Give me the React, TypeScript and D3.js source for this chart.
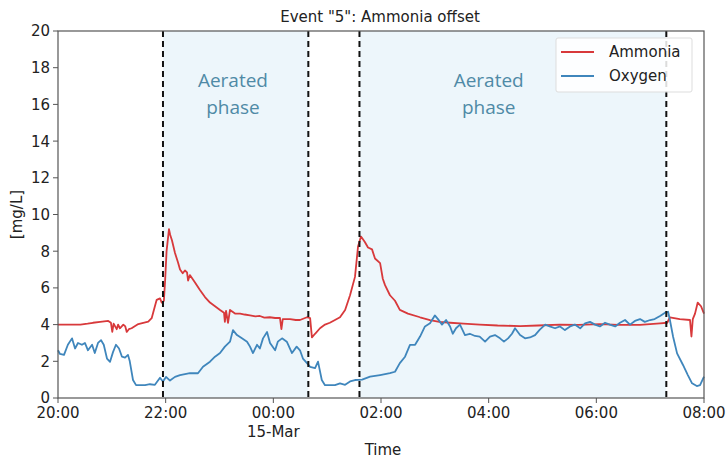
import React, { useEffect } from "react";
import * as d3 from "d3";

// minutes after 20:00 (14-Mar), value in mg/L
const ammonia: [number, number][] = [
  [0, 4.0], [13, 4.0], [25, 4.0], [33, 4.05], [39, 4.1], [47, 4.15], [56, 4.2], [59, 4.1],
  [60.5, 3.6], [62, 4.05], [65.4, 3.75], [67, 4.0], [69, 3.8], [72.8, 4.0], [75, 3.9],
  [76.6, 3.6], [79, 3.75], [82, 3.8], [89.5, 4.03], [95, 4.1], [100.6, 4.16], [104.4, 4.35],
  [108, 5.0], [110, 5.35], [113.7, 5.43], [115.6, 5.2], [118, 5.3], [119.5, 6.5], [121, 8.0],
  [123.7, 9.2], [125, 8.9], [127, 8.6], [130.4, 7.9], [133.7, 7.4], [136, 7.0], [139, 6.8],
  [141.5, 6.95], [143.8, 6.85], [145, 6.4], [147, 6.7], [152.7, 6.3], [158, 5.9], [163.8, 5.5],
  [169.4, 5.2], [175, 5.0], [180.6, 4.8], [185, 4.65], [186, 4.15], [187.3, 4.75], [189.5, 4.1],
  [191.7, 4.8], [197.3, 4.6], [203, 4.6], [208, 4.55], [214, 4.5], [220, 4.45], [225, 4.47],
  [230, 4.38], [236, 4.4], [242, 4.36], [247.4, 4.36], [249, 3.75], [250.5, 4.3], [258.6, 4.3],
  [265, 4.25], [269.7, 4.25], [277.5, 4.4], [281, 4.35], [283, 3.3], [286.5, 3.5], [292, 3.8],
  [297.6, 4.0], [303, 4.1], [308.7, 4.25], [314.3, 4.4], [320, 4.8], [325.5, 5.6], [331, 6.6],
  [334.4, 8.25], [337.7, 8.8], [342, 8.5], [345.5, 8.2], [350, 8.1], [353.3, 7.6], [359, 7.35],
  [362, 6.5], [364.5, 6.15], [370, 5.6], [375.6, 5.3], [381, 4.8], [390, 4.6], [403.5, 4.4],
  [414.6, 4.25], [425, 4.15], [437, 4.1], [452, 4.05], [470, 4.0], [490, 3.95], [515, 3.92],
  [535, 3.95], [559.5, 4.0], [580, 3.98], [604, 4.03], [625, 3.98], [648.7, 3.98], [671, 4.07],
  [679, 4.1], [682, 4.4], [693, 4.3], [704.4, 4.25], [706, 3.35], [707.5, 4.3], [710, 4.6],
  [713, 5.2], [716.7, 5.0], [720, 4.6],
];

const oxygen: [number, number][] = [
  [0, 2.6], [2.2, 2.4], [6.7, 2.35], [11, 2.9], [15.6, 3.25], [19, 2.7], [22.3, 3.0], [26.7, 2.9],
  [30, 3.0], [33.4, 2.6], [38, 2.9], [41, 2.45], [44.6, 3.0], [48, 3.15], [51, 2.9], [54.6, 2.15],
  [58, 1.97], [61.3, 2.5], [64.6, 2.9], [68, 2.7], [71.3, 2.25], [74.7, 2.2], [78, 2.35], [80, 2.0],
  [83.6, 0.98], [87, 0.7], [97, 0.7], [102.5, 0.75], [108, 0.72], [113.7, 1.1], [117, 0.9],
  [120.4, 1.15], [124.8, 0.95], [130.4, 1.15], [136, 1.25], [147, 1.35], [156, 1.35], [161.6, 1.7],
  [169.4, 1.98], [175, 2.25], [180.6, 2.45], [186, 2.8], [191.7, 3.07], [195, 3.7], [199.5, 3.43],
  [205, 3.25], [210.7, 3.07], [214, 2.8], [217.3, 2.45], [221.8, 2.9], [225, 2.7], [228.5, 3.25],
  [233, 3.6], [236.3, 3.0], [242, 2.6], [245, 3.07], [249.7, 3.25], [255, 3.07], [260.8, 2.45],
  [266, 2.8], [269.7, 2.6], [273, 2.15], [277.5, 1.9], [281, 1.7], [286.5, 1.63], [289.8, 1.98],
  [294, 0.98], [297.6, 0.7], [308.7, 0.7], [314.3, 0.8], [320, 0.72], [325.5, 0.9], [331, 0.98],
  [339, 1.0], [347.8, 1.16], [359, 1.25], [370, 1.35], [375.6, 1.43], [381, 1.9], [386.8, 2.25],
  [392.3, 2.9], [398, 2.9], [403.5, 3.35], [409, 3.9], [414.6, 4.07], [420, 4.5], [423.5, 4.3],
  [428, 4.0], [432.5, 4.25], [437, 3.9], [440, 3.5], [443.6, 3.8], [448, 4.0], [453.6, 3.43],
  [459, 3.5], [464.8, 3.38], [470, 3.35], [476, 3.07], [481.5, 3.35], [487, 3.43], [492.7, 3.25],
  [497, 3.07], [501.6, 3.25], [506, 3.5], [509.4, 3.8], [515, 3.43], [520.5, 3.25], [526, 3.3],
  [531.7, 3.43], [537, 3.73], [543, 4.0], [548, 3.9], [554, 3.8], [559.5, 3.9], [565, 3.7],
  [570.7, 3.9], [576, 4.0], [582, 3.8], [587.4, 4.07], [593, 4.15], [598.5, 4.0], [604, 3.9],
  [609.7, 4.1], [615, 4.0], [621, 3.9], [626.4, 4.1], [632, 4.25], [637.5, 4.0], [643, 4.2],
  [648.7, 4.3], [654, 4.15], [660, 4.25], [665, 4.3], [671, 4.47], [676.6, 4.65], [680, 4.7],
  [682, 4.25], [685.5, 3.35], [690, 2.43], [696.6, 1.8], [702, 1.25], [706.7, 0.8], [712, 0.65],
  [715.6, 0.7], [720, 1.16],
];

// phase boundaries, minutes after 20:00
const phaseLines = [117, 279, 336, 678];
const aeratedPhases: [number, number][] = [[117, 279], [336, 678]];
const phaseLabelMinutes = [195, 480];
const yTicks = [0, 2, 4, 6, 8, 10, 12, 14, 16, 18, 20];
const xTickHours = [0, 2, 4, 6, 8, 10, 12];
const xTickLabels = ["20:00", "22:00", "00:00", "02:00", "04:00", "06:00", "08:00"];
const seriesNames = ["Ammonia", "Oxygen"];
const seriesColors = ["#d8393b", "#3f86bc"];

const W = 728, H = 459;
const M = { left: 58, right: 704, top: 31, bottom: 398 };
const FONT = "DejaVu Sans, sans-serif";

export default function App() {
  useEffect(() => {
    document.body.style.margin = "0";
  }, []);
  const start = new Date(2019, 2, 14, 20, 0);
  const toDate = (m: number) => new Date(start.getTime() + m * 60000);
  const x = d3.scaleTime().domain([start, toDate(720)]).range([M.left, M.right]);
  const y = d3.scaleLinear().domain([0, 20]).range([M.bottom, M.top]);
  const line = d3
    .line<[number, number]>()
    .x((d) => x(toDate(d[0])))
    .y((d) => y(d[1]));
  const series = [ammonia, oxygen];

  return (
    <svg width={W} height={H} style={{ position: "absolute", left: 0, top: 0, background: "#fff" }} fontFamily={FONT}>
      {aeratedPhases.map(([a, b], i) => (
        <rect key={i} x={x(toDate(a))} y={M.top} width={x(toDate(b)) - x(toDate(a))} height={M.bottom - M.top} fill="#edf6fb" />
      ))}
      {phaseLabelMinutes.map((m, i) => {
        const cx = x(toDate(m));
        return (
          <text key={i} x={cx} textAnchor="middle" fill="#4f8aa6" fontSize={19} fontFamily="Open Sans, sans-serif">
            <tspan x={cx} y={87}>Aerated</tspan>
            <tspan x={cx} y={114}>phase</tspan>
          </text>
        );
      })}
      {series.map((s, i) => (
        <path key={i} d={line(s) || ""} fill="none" stroke={seriesColors[i]} strokeWidth={1.8} strokeLinejoin="round" />
      ))}
      {phaseLines.map((m, i) => (
        <line key={i} x1={x(toDate(m))} x2={x(toDate(m))} y1={M.top} y2={M.bottom} stroke="#111" strokeWidth={2} strokeDasharray="6,4" />
      ))}
      <rect x={M.left} y={M.top} width={M.right - M.left} height={M.bottom - M.top} fill="none" stroke="#555" strokeWidth={1.2} />
      {yTicks.map((t) => (
        <g key={t}>
          <line x1={M.left - 5} x2={M.left} y1={y(t)} y2={y(t)} stroke="#555" strokeWidth={1} />
          <text x={M.left - 8} y={y(t)} dy="0.36em" textAnchor="end" fontSize={15} fill="#222">{t}</text>
        </g>
      ))}
      {xTickHours.map((h, i) => {
        const px = x(toDate(h * 60));
        return (
          <g key={h}>
            <line x1={px} x2={px} y1={M.bottom} y2={M.bottom + 5} stroke="#555" strokeWidth={1} />
            <text x={px} y={M.bottom + 20} textAnchor="middle" fontSize={15} fill="#222">{xTickLabels[i]}</text>
            {xTickLabels[i] === "00:00" && (
              <text x={px} y={M.bottom + 39} textAnchor="middle" fontSize={15} fill="#222">15-Mar</text>
            )}
          </g>
        );
      })}
      <text x={380} y={22} textAnchor="middle" fontSize={15} fill="#222">Event "5": Ammonia offset</text>
      <text x={383} y={455} textAnchor="middle" fontSize={15} fill="#222">Time</text>
      <text transform={`translate(22,${(M.top + M.bottom) / 2}) rotate(-90)`} textAnchor="middle" fontSize={15} fill="#222">[mg/L]</text>
      <g>
        <rect x={556} y={38} width={136} height={54} fill="#fff" fillOpacity={0.85} stroke="#ddd" strokeWidth={1} rx={2} />
        {seriesNames.map((n, i) => (
          <g key={n}>
            <line x1={561} x2={594} y1={52 + i * 24} y2={52 + i * 24} stroke={seriesColors[i]} strokeWidth={1.8} />
            <text x={609} y={52 + i * 24} dy="0.36em" fontSize={15} fill="#222">{n}</text>
          </g>
        ))}
      </g>
    </svg>
  );
}
